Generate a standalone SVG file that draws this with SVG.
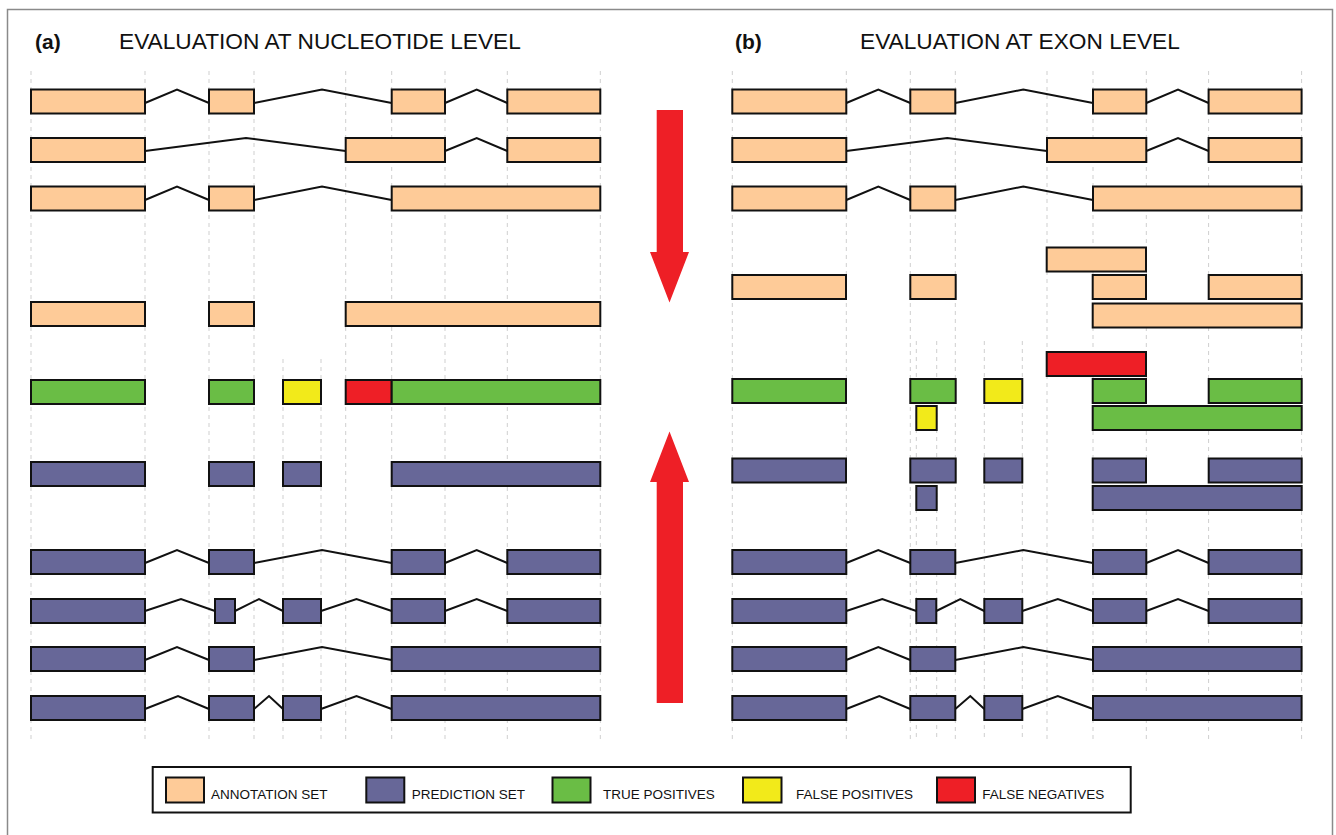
<svg xmlns="http://www.w3.org/2000/svg" width="1336" height="835" viewBox="0 0 1336 835">
<style>
.ann{fill:#FECB98;stroke:#111;stroke-width:2}
.pred{fill:#676798;stroke:#111;stroke-width:2}
.tp{fill:#6ABD45;stroke:#111;stroke-width:2}
.fp{fill:#F2EA1A;stroke:#111;stroke-width:2}
.fn{fill:#EE1F26;stroke:#111;stroke-width:2}
.intr{fill:none;stroke:#111;stroke-width:2;stroke-linejoin:miter}
.grid{stroke:#cfcfcf;stroke-width:1;stroke-dasharray:4,4}
.title{font-family:"Liberation Sans",Arial,sans-serif;font-size:22.7px;fill:#111}
.lab{font-family:"Liberation Sans",Arial,sans-serif;font-size:21px;font-weight:bold;fill:#111}
.leg{font-family:"Liberation Sans",Arial,sans-serif;font-size:13.5px;fill:#111}
.arrow{fill:#EE1F26}
</style>
<defs>
<g id="gridA">
<line class="grid" x1="31" y1="71" x2="31" y2="741"/>
<line class="grid" x1="145" y1="71" x2="145" y2="741"/>
<line class="grid" x1="209" y1="71" x2="209" y2="741"/>
<line class="grid" x1="254" y1="71" x2="254" y2="741"/>
<line class="grid" x1="345.7" y1="71" x2="345.7" y2="741"/>
<line class="grid" x1="391.7" y1="71" x2="391.7" y2="741"/>
<line class="grid" x1="445" y1="71" x2="445" y2="741"/>
<line class="grid" x1="507.3" y1="71" x2="507.3" y2="741"/>
<line class="grid" x1="600.3" y1="71" x2="600.3" y2="741"/>
</g>
<g id="row1">
<rect class="ann" x="31" y="89.5" width="114" height="24"/>
<rect class="ann" x="209" y="89.5" width="45" height="24"/>
<rect class="ann" x="391.7" y="89.5" width="53.3" height="24"/>
<rect class="ann" x="507.3" y="89.5" width="93" height="24"/>
<path class="intr" d="M145,103 L177,89.5 L209,103 M254,103 L322,89.5 L391.7,103 M445,103 L476.7,89.5 L507.3,103"/>
</g>
<g id="row2">
<rect class="ann" x="31" y="138" width="114" height="24"/>
<rect class="ann" x="345.7" y="138" width="99.3" height="24"/>
<rect class="ann" x="507.3" y="138" width="93" height="24"/>
<path class="intr" d="M145,151 L246,138 L345.7,151 M445,151 L476.7,138 L507.3,151"/>
</g>
<g id="row3">
<rect class="ann" x="31" y="186.5" width="114" height="24"/>
<rect class="ann" x="209" y="186.5" width="45" height="24"/>
<rect class="ann" x="391.7" y="186.5" width="208.6" height="24"/>
<path class="intr" d="M145,200 L177,186.5 L209,200 M254,200 L322,186.5 L391.7,200"/>
</g>
<g id="prow1">
<rect class="pred" x="31" y="550" width="114" height="24"/>
<rect class="pred" x="209" y="550" width="45" height="24"/>
<rect class="pred" x="391.7" y="550" width="53.3" height="24"/>
<rect class="pred" x="507.3" y="550" width="93" height="24"/>
<path class="intr" d="M145,563 L177,550 L209,563 M254,563 L322,550 L391.7,563 M445,563 L476.7,550 L507.3,563"/>
</g>
<g id="prow2">
<rect class="pred" x="31" y="599" width="114" height="24"/>
<rect class="pred" x="215" y="599" width="20" height="24"/>
<rect class="pred" x="283" y="599" width="38" height="24"/>
<rect class="pred" x="391.7" y="599" width="53.3" height="24"/>
<rect class="pred" x="507.3" y="599" width="93" height="24"/>
<path class="intr" d="M145,611 L181,599 L215,611 M235,611 L259,599 L283,611 M321,611 L356.5,599 L391.7,611 M445,611 L476.7,599 L507.3,611"/>
</g>
<g id="prow3">
<rect class="pred" x="31" y="647" width="114" height="24"/>
<rect class="pred" x="209" y="647" width="45" height="24"/>
<rect class="pred" x="391.7" y="647" width="208.6" height="24"/>
<path class="intr" d="M145,660 L177,647 L209,660 M254,660 L322,647 L391.7,660"/>
</g>
<g id="prow4">
<rect class="pred" x="31" y="696" width="114" height="24"/>
<rect class="pred" x="209" y="696" width="45" height="24"/>
<rect class="pred" x="283" y="696" width="38" height="24"/>
<rect class="pred" x="391.7" y="696" width="208.6" height="24"/>
<path class="intr" d="M145,709 L178,696 L209,709 M254,709 L269,696 L283,709 M321,709 L356.5,696 L391.7,709"/>
</g>
</defs>

<rect x="7.5" y="9.5" width="1325" height="840" fill="#fff" stroke="#8a8a8a" stroke-width="1.5"/>

<g id="gridlines">
<use href="#gridA"/>
<line class="grid" x1="283" y1="359" x2="283" y2="741"/>
<line class="grid" x1="321" y1="359" x2="321" y2="741"/>
<use href="#gridA" transform="translate(701.3,0)"/>
<line class="grid" x1="916.3" y1="341" x2="916.3" y2="741"/>
<line class="grid" x1="936.7" y1="341" x2="936.7" y2="741"/>
<line class="grid" x1="984.3" y1="341" x2="984.3" y2="741"/>
<line class="grid" x1="1022.3" y1="341" x2="1022.3" y2="741"/>
</g>

<g id="titles">
<text class="lab" x="35" y="49">(a)</text>
<text class="title" x="119" y="48.5">EVALUATION AT NUCLEOTIDE LEVEL</text>
<text class="lab" x="735" y="49">(b)</text>
<text class="title" x="860" y="48.5">EVALUATION AT EXON LEVEL</text>
</g>

<g id="panel-a">
<g id="a-annot-1"><use href="#row1"/></g>
<g id="a-annot-2"><use href="#row2"/></g>
<g id="a-annot-3"><use href="#row3"/></g>
<g id="a-annot-merged">
<rect class="ann" x="31" y="302" width="114" height="24"/>
<rect class="ann" x="209" y="302" width="45" height="24"/>
<rect class="ann" x="345.7" y="302" width="254.6" height="24"/>
</g>
<g id="a-eval">
<rect class="tp" x="31" y="380" width="114" height="24"/>
<rect class="tp" x="209" y="380" width="45" height="24"/>
<rect class="fp" x="283" y="380" width="38" height="24"/>
<rect class="fn" x="345.7" y="380" width="46" height="24"/>
<rect class="tp" x="391.7" y="380" width="208.6" height="24"/>
</g>
<g id="a-pred-merged">
<rect class="pred" x="31" y="462" width="114" height="24"/>
<rect class="pred" x="209" y="462" width="45" height="24"/>
<rect class="pred" x="283" y="462" width="38" height="24"/>
<rect class="pred" x="391.7" y="462" width="208.6" height="24"/>
</g>
<g id="a-pred-1"><use href="#prow1"/></g>
<g id="a-pred-2"><use href="#prow2"/></g>
<g id="a-pred-3"><use href="#prow3"/></g>
<g id="a-pred-4"><use href="#prow4"/></g>
</g>

<g id="panel-b">
<g id="b-annot-1"><use href="#row1" transform="translate(701.3,0)"/></g>
<g id="b-annot-2"><use href="#row2" transform="translate(701.3,0)"/></g>
<g id="b-annot-3"><use href="#row3" transform="translate(701.3,0)"/></g>
<g id="b-annot-merged">
<rect class="ann" x="1046.7" y="247.5" width="99.3" height="24"/>
<rect class="ann" x="732.3" y="275" width="113.7" height="24"/>
<rect class="ann" x="910.3" y="275" width="45.4" height="24"/>
<rect class="ann" x="1092.7" y="275" width="53.3" height="24"/>
<rect class="ann" x="1208.7" y="275" width="93" height="24"/>
<rect class="ann" x="1092.7" y="303.5" width="209" height="24"/>
</g>
<g id="b-eval">
<rect class="fn" x="1046.7" y="352" width="99.3" height="24"/>
<rect class="tp" x="732.3" y="379" width="113.7" height="24"/>
<rect class="tp" x="910.3" y="379" width="45.4" height="24"/>
<rect class="fp" x="984.3" y="379" width="38" height="24"/>
<rect class="tp" x="1092.7" y="379" width="53.3" height="24"/>
<rect class="tp" x="1208.7" y="379" width="93" height="24"/>
<rect class="fp" x="916.3" y="406" width="20.4" height="24"/>
<rect class="tp" x="1092.7" y="406" width="209" height="24"/>
</g>
<g id="b-pred-merged">
<rect class="pred" x="732.3" y="458.5" width="113.7" height="24"/>
<rect class="pred" x="910.3" y="458.5" width="45.4" height="24"/>
<rect class="pred" x="984.3" y="458.5" width="38" height="24"/>
<rect class="pred" x="1092.7" y="458.5" width="53.3" height="24"/>
<rect class="pred" x="1208.7" y="458.5" width="93" height="24"/>
<rect class="pred" x="916.3" y="486" width="20.4" height="24"/>
<rect class="pred" x="1092.7" y="486" width="209" height="24"/>
</g>
<g id="b-pred-1"><use href="#prow1" transform="translate(701.3,0)"/></g>
<g id="b-pred-2"><use href="#prow2" transform="translate(701.3,0)"/></g>
<g id="b-pred-3"><use href="#prow3" transform="translate(701.3,0)"/></g>
<g id="b-pred-4"><use href="#prow4" transform="translate(701.3,0)"/></g>
</g>

<g id="arrows">
<polygon class="arrow" points="656.7,110 683,110 683,252 689,252 669.5,302.5 650,252 656.7,252"/>
<polygon class="arrow" points="669.5,431.5 689,482 683,482 683,703 656.7,703 656.7,482 650,482"/>
</g>

<g id="legend">
<rect x="152.7" y="767" width="978" height="45.5" fill="#fff" stroke="#111" stroke-width="2"/>
<rect class="ann" x="166" y="777.5" width="38" height="25"/>
<text class="leg" x="211" y="798.5">ANNOTATION SET</text>
<rect class="pred" x="366.3" y="777.5" width="38" height="25"/>
<text class="leg" x="411.7" y="798.5">PREDICTION SET</text>
<rect class="tp" x="552.5" y="777.5" width="38" height="25"/>
<text class="leg" x="603" y="798.5">TRUE POSITIVES</text>
<rect class="fp" x="743" y="777.5" width="38.5" height="25"/>
<text class="leg" x="796" y="798.5">FALSE POSITIVES</text>
<rect class="fn" x="937" y="777.5" width="38" height="25"/>
<text class="leg" x="982.3" y="798.5">FALSE NEGATIVES</text>
</g>
</svg>
